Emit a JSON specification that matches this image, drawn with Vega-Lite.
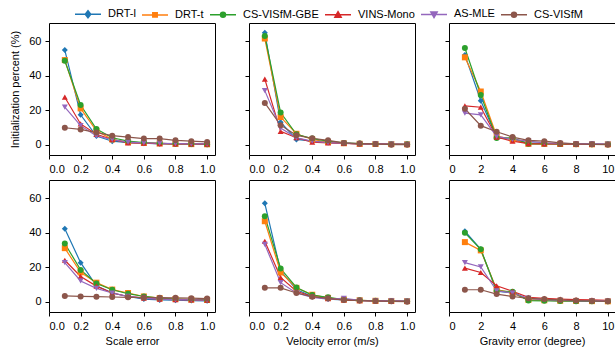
{
  "$schema": "https://vega.github.io/schema/vega-lite/v6.json",
  "padding": {"left": 9, "top": 0, "right": 0, "bottom": 4},
  "bounds": "flush",
  "columns": 3,
  "spacing": {"row": 25, "column": 34},
  "resolve": {"scale": {"x": "independent", "y": "independent"}},
  "config": {
    "font": "Liberation Sans",
    "view": {"stroke": "black", "strokeWidth": 1},
    "axis": {"domain": false, "grid": false, "ticks": true, "tickColor": "black", "tickSize": 4, "tickWidth": 1, "labelPadding": 4, "labelFontSize": 11, "labelColor": "black", "labelFont": "Liberation Sans", "titleFont": "Liberation Sans", "titleFontSize": 11, "titleFontWeight": "normal", "titleColor": "black"},
    "legend": {"labelFont": "Liberation Sans", "labelFontSize": 11, "labelColor": "black"}
  },
  "data": {"values": [
    {"p":"s1","m":"DRT-l","x":0.1,"y":54.8},{"p":"s1","m":"DRT-l","x":0.2,"y":17.3},{"p":"s1","m":"DRT-l","x":0.3,"y":5},{"p":"s1","m":"DRT-l","x":0.4,"y":2},{"p":"s1","m":"DRT-l","x":0.5,"y":1.2},{"p":"s1","m":"DRT-l","x":0.6,"y":0.8},{"p":"s1","m":"DRT-l","x":0.7,"y":0.5},{"p":"s1","m":"DRT-l","x":0.8,"y":0.4},{"p":"s1","m":"DRT-l","x":0.9,"y":0.3},{"p":"s1","m":"DRT-l","x":1.0,"y":0.2},
    {"p":"s1","m":"DRT-t","x":0.1,"y":49},{"p":"s1","m":"DRT-t","x":0.2,"y":21},{"p":"s1","m":"DRT-t","x":0.3,"y":8},{"p":"s1","m":"DRT-t","x":0.4,"y":3},{"p":"s1","m":"DRT-t","x":0.5,"y":1.5},{"p":"s1","m":"DRT-t","x":0.6,"y":1},{"p":"s1","m":"DRT-t","x":0.7,"y":0.7},{"p":"s1","m":"DRT-t","x":0.8,"y":0.5},{"p":"s1","m":"DRT-t","x":0.9,"y":0.3},{"p":"s1","m":"DRT-t","x":1.0,"y":0.2},
    {"p":"s1","m":"CS-VISfM-GBE","x":0.1,"y":48.6},{"p":"s1","m":"CS-VISfM-GBE","x":0.2,"y":23},{"p":"s1","m":"CS-VISfM-GBE","x":0.3,"y":9},{"p":"s1","m":"CS-VISfM-GBE","x":0.4,"y":4},{"p":"s1","m":"CS-VISfM-GBE","x":0.5,"y":2},{"p":"s1","m":"CS-VISfM-GBE","x":0.6,"y":1.2},{"p":"s1","m":"CS-VISfM-GBE","x":0.7,"y":0.8},{"p":"s1","m":"CS-VISfM-GBE","x":0.8,"y":0.5},{"p":"s1","m":"CS-VISfM-GBE","x":0.9,"y":0.4},{"p":"s1","m":"CS-VISfM-GBE","x":1.0,"y":0.3},
    {"p":"s1","m":"VINS-Mono","x":0.1,"y":27.5},{"p":"s1","m":"VINS-Mono","x":0.2,"y":12},{"p":"s1","m":"VINS-Mono","x":0.3,"y":6},{"p":"s1","m":"VINS-Mono","x":0.4,"y":3},{"p":"s1","m":"VINS-Mono","x":0.5,"y":1},{"p":"s1","m":"VINS-Mono","x":0.6,"y":0.8},{"p":"s1","m":"VINS-Mono","x":0.7,"y":0.6},{"p":"s1","m":"VINS-Mono","x":0.8,"y":0.5},{"p":"s1","m":"VINS-Mono","x":0.9,"y":0.4},{"p":"s1","m":"VINS-Mono","x":1.0,"y":0.3},
    {"p":"s1","m":"AS-MLE","x":0.1,"y":21.7},{"p":"s1","m":"AS-MLE","x":0.2,"y":11},{"p":"s1","m":"AS-MLE","x":0.3,"y":5},{"p":"s1","m":"AS-MLE","x":0.4,"y":3},{"p":"s1","m":"AS-MLE","x":0.5,"y":1.5},{"p":"s1","m":"AS-MLE","x":0.6,"y":1},{"p":"s1","m":"AS-MLE","x":0.7,"y":0.8},{"p":"s1","m":"AS-MLE","x":0.8,"y":0.6},{"p":"s1","m":"AS-MLE","x":0.9,"y":0.5},{"p":"s1","m":"AS-MLE","x":1.0,"y":0.4},
    {"p":"s1","m":"CS-VISfM","x":0.1,"y":9.8},{"p":"s1","m":"CS-VISfM","x":0.2,"y":8.8},{"p":"s1","m":"CS-VISfM","x":0.3,"y":7},{"p":"s1","m":"CS-VISfM","x":0.4,"y":5.2},{"p":"s1","m":"CS-VISfM","x":0.5,"y":4.4},{"p":"s1","m":"CS-VISfM","x":0.6,"y":3.5},{"p":"s1","m":"CS-VISfM","x":0.7,"y":3.5},{"p":"s1","m":"CS-VISfM","x":0.8,"y":2.5},{"p":"s1","m":"CS-VISfM","x":0.9,"y":2},{"p":"s1","m":"CS-VISfM","x":1.0,"y":1.6},

    {"p":"v1","m":"DRT-l","x":0.1,"y":64.8},{"p":"v1","m":"DRT-l","x":0.2,"y":13},{"p":"v1","m":"DRT-l","x":0.3,"y":3},{"p":"v1","m":"DRT-l","x":0.4,"y":2},{"p":"v1","m":"DRT-l","x":0.5,"y":1.2},{"p":"v1","m":"DRT-l","x":0.6,"y":0.8},{"p":"v1","m":"DRT-l","x":0.7,"y":0.5},{"p":"v1","m":"DRT-l","x":0.8,"y":0.4},{"p":"v1","m":"DRT-l","x":0.9,"y":0.3},{"p":"v1","m":"DRT-l","x":1.0,"y":0.2},
    {"p":"v1","m":"DRT-t","x":0.1,"y":61.5},{"p":"v1","m":"DRT-t","x":0.2,"y":16},{"p":"v1","m":"DRT-t","x":0.3,"y":6.3},{"p":"v1","m":"DRT-t","x":0.4,"y":3},{"p":"v1","m":"DRT-t","x":0.5,"y":1.5},{"p":"v1","m":"DRT-t","x":0.6,"y":0.8},{"p":"v1","m":"DRT-t","x":0.7,"y":0.5},{"p":"v1","m":"DRT-t","x":0.8,"y":0.4},{"p":"v1","m":"DRT-t","x":0.9,"y":0.3},{"p":"v1","m":"DRT-t","x":1.0,"y":0.2},
    {"p":"v1","m":"CS-VISfM-GBE","x":0.1,"y":63},{"p":"v1","m":"CS-VISfM-GBE","x":0.2,"y":18.6},{"p":"v1","m":"CS-VISfM-GBE","x":0.3,"y":6},{"p":"v1","m":"CS-VISfM-GBE","x":0.4,"y":3.5},{"p":"v1","m":"CS-VISfM-GBE","x":0.5,"y":2},{"p":"v1","m":"CS-VISfM-GBE","x":0.6,"y":1},{"p":"v1","m":"CS-VISfM-GBE","x":0.7,"y":0.6},{"p":"v1","m":"CS-VISfM-GBE","x":0.8,"y":0.4},{"p":"v1","m":"CS-VISfM-GBE","x":0.9,"y":0.3},{"p":"v1","m":"CS-VISfM-GBE","x":1.0,"y":0.2},
    {"p":"v1","m":"VINS-Mono","x":0.1,"y":38},{"p":"v1","m":"VINS-Mono","x":0.2,"y":7.7},{"p":"v1","m":"VINS-Mono","x":0.3,"y":4},{"p":"v1","m":"VINS-Mono","x":0.4,"y":1.5},{"p":"v1","m":"VINS-Mono","x":0.5,"y":1},{"p":"v1","m":"VINS-Mono","x":0.6,"y":0.7},{"p":"v1","m":"VINS-Mono","x":0.7,"y":0.5},{"p":"v1","m":"VINS-Mono","x":0.8,"y":0.4},{"p":"v1","m":"VINS-Mono","x":0.9,"y":0.3},{"p":"v1","m":"VINS-Mono","x":1.0,"y":0.2},
    {"p":"v1","m":"AS-MLE","x":0.1,"y":31.3},{"p":"v1","m":"AS-MLE","x":0.2,"y":9.6},{"p":"v1","m":"AS-MLE","x":0.3,"y":4},{"p":"v1","m":"AS-MLE","x":0.4,"y":2},{"p":"v1","m":"AS-MLE","x":0.5,"y":1.2},{"p":"v1","m":"AS-MLE","x":0.6,"y":0.8},{"p":"v1","m":"AS-MLE","x":0.7,"y":0.5},{"p":"v1","m":"AS-MLE","x":0.8,"y":0.4},{"p":"v1","m":"AS-MLE","x":0.9,"y":0.3},{"p":"v1","m":"AS-MLE","x":1.0,"y":0.2},
    {"p":"v1","m":"CS-VISfM","x":0.1,"y":24.2},{"p":"v1","m":"CS-VISfM","x":0.2,"y":11.3},{"p":"v1","m":"CS-VISfM","x":0.3,"y":5.4},{"p":"v1","m":"CS-VISfM","x":0.4,"y":3.7},{"p":"v1","m":"CS-VISfM","x":0.5,"y":2.5},{"p":"v1","m":"CS-VISfM","x":0.6,"y":1},{"p":"v1","m":"CS-VISfM","x":0.7,"y":0.6},{"p":"v1","m":"CS-VISfM","x":0.8,"y":0.4},{"p":"v1","m":"CS-VISfM","x":0.9,"y":0},{"p":"v1","m":"CS-VISfM","x":1.0,"y":0},

    {"p":"g1","m":"DRT-l","x":1,"y":52},{"p":"g1","m":"DRT-l","x":2,"y":25.4},{"p":"g1","m":"DRT-l","x":3,"y":4.5},{"p":"g1","m":"DRT-l","x":4,"y":3},{"p":"g1","m":"DRT-l","x":5,"y":1},{"p":"g1","m":"DRT-l","x":6,"y":0.8},{"p":"g1","m":"DRT-l","x":7,"y":0.5},{"p":"g1","m":"DRT-l","x":8,"y":0.4},{"p":"g1","m":"DRT-l","x":9,"y":0.3},{"p":"g1","m":"DRT-l","x":10,"y":0.2},
    {"p":"g1","m":"DRT-t","x":1,"y":50.6},{"p":"g1","m":"DRT-t","x":2,"y":30.8},{"p":"g1","m":"DRT-t","x":3,"y":5},{"p":"g1","m":"DRT-t","x":4,"y":3},{"p":"g1","m":"DRT-t","x":5,"y":0.5},{"p":"g1","m":"DRT-t","x":6,"y":0.5},{"p":"g1","m":"DRT-t","x":7,"y":0.4},{"p":"g1","m":"DRT-t","x":8,"y":0.3},{"p":"g1","m":"DRT-t","x":9,"y":0.2},{"p":"g1","m":"DRT-t","x":10,"y":0.2},
    {"p":"g1","m":"CS-VISfM-GBE","x":1,"y":56},{"p":"g1","m":"CS-VISfM-GBE","x":2,"y":28.8},{"p":"g1","m":"CS-VISfM-GBE","x":3,"y":3.8},{"p":"g1","m":"CS-VISfM-GBE","x":4,"y":4},{"p":"g1","m":"CS-VISfM-GBE","x":5,"y":0.5},{"p":"g1","m":"CS-VISfM-GBE","x":6,"y":0.5},{"p":"g1","m":"CS-VISfM-GBE","x":7,"y":0.4},{"p":"g1","m":"CS-VISfM-GBE","x":8,"y":0.3},{"p":"g1","m":"CS-VISfM-GBE","x":9,"y":0.2},{"p":"g1","m":"CS-VISfM-GBE","x":10,"y":0.2},
    {"p":"g1","m":"VINS-Mono","x":1,"y":22.5},{"p":"g1","m":"VINS-Mono","x":2,"y":21.7},{"p":"g1","m":"VINS-Mono","x":3,"y":4.4},{"p":"g1","m":"VINS-Mono","x":4,"y":2},{"p":"g1","m":"VINS-Mono","x":5,"y":0.6},{"p":"g1","m":"VINS-Mono","x":6,"y":0.5},{"p":"g1","m":"VINS-Mono","x":7,"y":0.4},{"p":"g1","m":"VINS-Mono","x":8,"y":0.3},{"p":"g1","m":"VINS-Mono","x":9,"y":0.2},{"p":"g1","m":"VINS-Mono","x":10,"y":0.2},
    {"p":"g1","m":"AS-MLE","x":1,"y":18.3},{"p":"g1","m":"AS-MLE","x":2,"y":17.3},{"p":"g1","m":"AS-MLE","x":3,"y":4.8},{"p":"g1","m":"AS-MLE","x":4,"y":3},{"p":"g1","m":"AS-MLE","x":5,"y":2},{"p":"g1","m":"AS-MLE","x":6,"y":1},{"p":"g1","m":"AS-MLE","x":7,"y":0.8},{"p":"g1","m":"AS-MLE","x":8,"y":0.5},{"p":"g1","m":"AS-MLE","x":9,"y":0.4},{"p":"g1","m":"AS-MLE","x":10,"y":0.3},
    {"p":"g1","m":"CS-VISfM","x":1,"y":20.8},{"p":"g1","m":"CS-VISfM","x":2,"y":11},{"p":"g1","m":"CS-VISfM","x":3,"y":7.5},{"p":"g1","m":"CS-VISfM","x":4,"y":4.4},{"p":"g1","m":"CS-VISfM","x":5,"y":2.5},{"p":"g1","m":"CS-VISfM","x":6,"y":2},{"p":"g1","m":"CS-VISfM","x":7,"y":1},{"p":"g1","m":"CS-VISfM","x":8,"y":0.4},{"p":"g1","m":"CS-VISfM","x":9,"y":0.2},{"p":"g1","m":"CS-VISfM","x":10,"y":0},

    {"p":"s2","m":"DRT-l","x":0.1,"y":42.2},{"p":"s2","m":"DRT-l","x":0.2,"y":22.6},{"p":"s2","m":"DRT-l","x":0.3,"y":9.2},{"p":"s2","m":"DRT-l","x":0.4,"y":5},{"p":"s2","m":"DRT-l","x":0.5,"y":3},{"p":"s2","m":"DRT-l","x":0.6,"y":1.5},{"p":"s2","m":"DRT-l","x":0.7,"y":1},{"p":"s2","m":"DRT-l","x":0.8,"y":0.8},{"p":"s2","m":"DRT-l","x":0.9,"y":0.6},{"p":"s2","m":"DRT-l","x":1.0,"y":0.5},
    {"p":"s2","m":"DRT-t","x":0.1,"y":31},{"p":"s2","m":"DRT-t","x":0.2,"y":17},{"p":"s2","m":"DRT-t","x":0.3,"y":11},{"p":"s2","m":"DRT-t","x":0.4,"y":7},{"p":"s2","m":"DRT-t","x":0.5,"y":5},{"p":"s2","m":"DRT-t","x":0.6,"y":3},{"p":"s2","m":"DRT-t","x":0.7,"y":2},{"p":"s2","m":"DRT-t","x":0.8,"y":1.5},{"p":"s2","m":"DRT-t","x":0.9,"y":1.2},{"p":"s2","m":"DRT-t","x":1.0,"y":1},
    {"p":"s2","m":"CS-VISfM-GBE","x":0.1,"y":33.7},{"p":"s2","m":"CS-VISfM-GBE","x":0.2,"y":18.4},{"p":"s2","m":"CS-VISfM-GBE","x":0.3,"y":10.5},{"p":"s2","m":"CS-VISfM-GBE","x":0.4,"y":6.9},{"p":"s2","m":"CS-VISfM-GBE","x":0.5,"y":4.6},{"p":"s2","m":"CS-VISfM-GBE","x":0.6,"y":3},{"p":"s2","m":"CS-VISfM-GBE","x":0.7,"y":2},{"p":"s2","m":"CS-VISfM-GBE","x":0.8,"y":1.5},{"p":"s2","m":"CS-VISfM-GBE","x":0.9,"y":1.2},{"p":"s2","m":"CS-VISfM-GBE","x":1.0,"y":1},
    {"p":"s2","m":"VINS-Mono","x":0.1,"y":24},{"p":"s2","m":"VINS-Mono","x":0.2,"y":14.6},{"p":"s2","m":"VINS-Mono","x":0.3,"y":9},{"p":"s2","m":"VINS-Mono","x":0.4,"y":5},{"p":"s2","m":"VINS-Mono","x":0.5,"y":3},{"p":"s2","m":"VINS-Mono","x":0.6,"y":2},{"p":"s2","m":"VINS-Mono","x":0.7,"y":1.5},{"p":"s2","m":"VINS-Mono","x":0.8,"y":1.2},{"p":"s2","m":"VINS-Mono","x":0.9,"y":1},{"p":"s2","m":"VINS-Mono","x":1.0,"y":0.8},
    {"p":"s2","m":"AS-MLE","x":0.1,"y":22.6},{"p":"s2","m":"AS-MLE","x":0.2,"y":12},{"p":"s2","m":"AS-MLE","x":0.3,"y":7.7},{"p":"s2","m":"AS-MLE","x":0.4,"y":5},{"p":"s2","m":"AS-MLE","x":0.5,"y":3},{"p":"s2","m":"AS-MLE","x":0.6,"y":2},{"p":"s2","m":"AS-MLE","x":0.7,"y":1.5},{"p":"s2","m":"AS-MLE","x":0.8,"y":1.2},{"p":"s2","m":"AS-MLE","x":0.9,"y":1},{"p":"s2","m":"AS-MLE","x":1.0,"y":0.8},
    {"p":"s2","m":"CS-VISfM","x":0.1,"y":3.3},{"p":"s2","m":"CS-VISfM","x":0.2,"y":3},{"p":"s2","m":"CS-VISfM","x":0.3,"y":2.9},{"p":"s2","m":"CS-VISfM","x":0.4,"y":2.7},{"p":"s2","m":"CS-VISfM","x":0.5,"y":2.5},{"p":"s2","m":"CS-VISfM","x":0.6,"y":2.4},{"p":"s2","m":"CS-VISfM","x":0.7,"y":2.3},{"p":"s2","m":"CS-VISfM","x":0.8,"y":2.2},{"p":"s2","m":"CS-VISfM","x":0.9,"y":2},{"p":"s2","m":"CS-VISfM","x":1.0,"y":1.8},

    {"p":"v2","m":"DRT-l","x":0.1,"y":57},{"p":"v2","m":"DRT-l","x":0.2,"y":17.8},{"p":"v2","m":"DRT-l","x":0.3,"y":7},{"p":"v2","m":"DRT-l","x":0.4,"y":3},{"p":"v2","m":"DRT-l","x":0.5,"y":1.5},{"p":"v2","m":"DRT-l","x":0.6,"y":1},{"p":"v2","m":"DRT-l","x":0.7,"y":0.6},{"p":"v2","m":"DRT-l","x":0.8,"y":0.4},{"p":"v2","m":"DRT-l","x":0.9,"y":0.3},{"p":"v2","m":"DRT-l","x":1.0,"y":0.2},
    {"p":"v2","m":"DRT-t","x":0.1,"y":46.6},{"p":"v2","m":"DRT-t","x":0.2,"y":16.9},{"p":"v2","m":"DRT-t","x":0.3,"y":8},{"p":"v2","m":"DRT-t","x":0.4,"y":4},{"p":"v2","m":"DRT-t","x":0.5,"y":2.2},{"p":"v2","m":"DRT-t","x":0.6,"y":1.2},{"p":"v2","m":"DRT-t","x":0.7,"y":0.8},{"p":"v2","m":"DRT-t","x":0.8,"y":0.5},{"p":"v2","m":"DRT-t","x":0.9,"y":0.4},{"p":"v2","m":"DRT-t","x":1.0,"y":0.3},
    {"p":"v2","m":"CS-VISfM-GBE","x":0.1,"y":49.5},{"p":"v2","m":"CS-VISfM-GBE","x":0.2,"y":19.2},{"p":"v2","m":"CS-VISfM-GBE","x":0.3,"y":8.2},{"p":"v2","m":"CS-VISfM-GBE","x":0.4,"y":3.8},{"p":"v2","m":"CS-VISfM-GBE","x":0.5,"y":2.5},{"p":"v2","m":"CS-VISfM-GBE","x":0.6,"y":1.2},{"p":"v2","m":"CS-VISfM-GBE","x":0.7,"y":0.8},{"p":"v2","m":"CS-VISfM-GBE","x":0.8,"y":0.5},{"p":"v2","m":"CS-VISfM-GBE","x":0.9,"y":0.4},{"p":"v2","m":"CS-VISfM-GBE","x":1.0,"y":0.3},
    {"p":"v2","m":"VINS-Mono","x":0.1,"y":35},{"p":"v2","m":"VINS-Mono","x":0.2,"y":14},{"p":"v2","m":"VINS-Mono","x":0.3,"y":6},{"p":"v2","m":"VINS-Mono","x":0.4,"y":3},{"p":"v2","m":"VINS-Mono","x":0.5,"y":1.8},{"p":"v2","m":"VINS-Mono","x":0.6,"y":1},{"p":"v2","m":"VINS-Mono","x":0.7,"y":0.6},{"p":"v2","m":"VINS-Mono","x":0.8,"y":0.4},{"p":"v2","m":"VINS-Mono","x":0.9,"y":0.3},{"p":"v2","m":"VINS-Mono","x":1.0,"y":0.2},
    {"p":"v2","m":"AS-MLE","x":0.1,"y":33.2},{"p":"v2","m":"AS-MLE","x":0.2,"y":11},{"p":"v2","m":"AS-MLE","x":0.3,"y":5},{"p":"v2","m":"AS-MLE","x":0.4,"y":2.5},{"p":"v2","m":"AS-MLE","x":0.5,"y":1.5},{"p":"v2","m":"AS-MLE","x":0.6,"y":1.9},{"p":"v2","m":"AS-MLE","x":0.7,"y":0.8},{"p":"v2","m":"AS-MLE","x":0.8,"y":0.5},{"p":"v2","m":"AS-MLE","x":0.9,"y":0.4},{"p":"v2","m":"AS-MLE","x":1.0,"y":0.3},
    {"p":"v2","m":"CS-VISfM","x":0.1,"y":8},{"p":"v2","m":"CS-VISfM","x":0.2,"y":8},{"p":"v2","m":"CS-VISfM","x":0.3,"y":5},{"p":"v2","m":"CS-VISfM","x":0.4,"y":2.9},{"p":"v2","m":"CS-VISfM","x":0.5,"y":1.9},{"p":"v2","m":"CS-VISfM","x":0.6,"y":1},{"p":"v2","m":"CS-VISfM","x":0.7,"y":0.6},{"p":"v2","m":"CS-VISfM","x":0.8,"y":0.4},{"p":"v2","m":"CS-VISfM","x":0.9,"y":0.2},{"p":"v2","m":"CS-VISfM","x":1.0,"y":0},

    {"p":"g2","m":"DRT-l","x":1,"y":40.8},{"p":"g2","m":"DRT-l","x":2,"y":30.3},{"p":"g2","m":"DRT-l","x":3,"y":6},{"p":"g2","m":"DRT-l","x":4,"y":5},{"p":"g2","m":"DRT-l","x":5,"y":1},{"p":"g2","m":"DRT-l","x":6,"y":0.8},{"p":"g2","m":"DRT-l","x":7,"y":0.5},{"p":"g2","m":"DRT-l","x":8,"y":0.4},{"p":"g2","m":"DRT-l","x":9,"y":0.3},{"p":"g2","m":"DRT-l","x":10,"y":0.2},
    {"p":"g2","m":"DRT-t","x":1,"y":34.5},{"p":"g2","m":"DRT-t","x":2,"y":29.7},{"p":"g2","m":"DRT-t","x":3,"y":7},{"p":"g2","m":"DRT-t","x":4,"y":5},{"p":"g2","m":"DRT-t","x":5,"y":1},{"p":"g2","m":"DRT-t","x":6,"y":0.8},{"p":"g2","m":"DRT-t","x":7,"y":0.5},{"p":"g2","m":"DRT-t","x":8,"y":0.4},{"p":"g2","m":"DRT-t","x":9,"y":0.3},{"p":"g2","m":"DRT-t","x":10,"y":0.2},
    {"p":"g2","m":"CS-VISfM-GBE","x":1,"y":39.9},{"p":"g2","m":"CS-VISfM-GBE","x":2,"y":30.3},{"p":"g2","m":"CS-VISfM-GBE","x":3,"y":6.3},{"p":"g2","m":"CS-VISfM-GBE","x":4,"y":5.8},{"p":"g2","m":"CS-VISfM-GBE","x":5,"y":0.6},{"p":"g2","m":"CS-VISfM-GBE","x":6,"y":0.5},{"p":"g2","m":"CS-VISfM-GBE","x":7,"y":0.4},{"p":"g2","m":"CS-VISfM-GBE","x":8,"y":0.3},{"p":"g2","m":"CS-VISfM-GBE","x":9,"y":0.2},{"p":"g2","m":"CS-VISfM-GBE","x":10,"y":0.2},
    {"p":"g2","m":"VINS-Mono","x":1,"y":19.4},{"p":"g2","m":"VINS-Mono","x":2,"y":16.9},{"p":"g2","m":"VINS-Mono","x":3,"y":9.2},{"p":"g2","m":"VINS-Mono","x":4,"y":6},{"p":"g2","m":"VINS-Mono","x":5,"y":2.5},{"p":"g2","m":"VINS-Mono","x":6,"y":1.9},{"p":"g2","m":"VINS-Mono","x":7,"y":1.5},{"p":"g2","m":"VINS-Mono","x":8,"y":1.2},{"p":"g2","m":"VINS-Mono","x":9,"y":1},{"p":"g2","m":"VINS-Mono","x":10,"y":0.8},
    {"p":"g2","m":"AS-MLE","x":1,"y":22.6},{"p":"g2","m":"AS-MLE","x":2,"y":20.1},{"p":"g2","m":"AS-MLE","x":3,"y":6.3},{"p":"g2","m":"AS-MLE","x":4,"y":5},{"p":"g2","m":"AS-MLE","x":5,"y":2},{"p":"g2","m":"AS-MLE","x":6,"y":1.2},{"p":"g2","m":"AS-MLE","x":7,"y":0.8},{"p":"g2","m":"AS-MLE","x":8,"y":0.5},{"p":"g2","m":"AS-MLE","x":9,"y":0.4},{"p":"g2","m":"AS-MLE","x":10,"y":0.3},
    {"p":"g2","m":"CS-VISfM","x":1,"y":6.9},{"p":"g2","m":"CS-VISfM","x":2,"y":6.9},{"p":"g2","m":"CS-VISfM","x":3,"y":4.4},{"p":"g2","m":"CS-VISfM","x":4,"y":3},{"p":"g2","m":"CS-VISfM","x":5,"y":1.9},{"p":"g2","m":"CS-VISfM","x":6,"y":1.5},{"p":"g2","m":"CS-VISfM","x":7,"y":1},{"p":"g2","m":"CS-VISfM","x":8,"y":0.6},{"p":"g2","m":"CS-VISfM","x":9,"y":0.4},{"p":"g2","m":"CS-VISfM","x":10,"y":0.2}
  ]},
  "concat": [
    {
      "width": 166, "height": 132,
      "transform": [{"filter": "datum.p === 's1'"}],
      "encoding": {
        "x": {"field": "x", "type": "quantitative", "scale": {"domain": [0, 1.05], "nice": false, "zero": false}, "axis": {"values": [0, 0.2, 0.4, 0.6, 0.8, 1.0], "format": ".1f", "title": null}},
        "y": {"field": "y", "type": "quantitative", "scale": {"domain": [-6, 70.5], "nice": false}, "axis": {"values": [0, 20, 40, 60], "title": "Initialization percent (%)", "titlePadding": 8}},
        "color": {"field": "m", "type": "nominal", "scale": {"domain": ["DRT-l", "DRT-t", "CS-VISfM-GBE", "VINS-Mono", "AS-MLE", "CS-VISfM"], "range": ["#1f77b4", "#ff7f0e", "#2ca02c", "#d62728", "#9467bd", "#8c564b"]},
          "legend": {"title": null, "orient": "none", "legendX": 25, "legendY": -23, "direction": "horizontal", "symbolSize": 676, "symbolStrokeWidth": 1.5, "labelOffset": 6, "columnPadding": 3, "padding": 0,
            "encode": {"symbols": {"update": {
              "shape": {"signal": "datum.value === 'DRT-l' ? 'M-1,0H1M0,-0.27L0.21,0L0,0.27L-0.21,0Z' : datum.value === 'DRT-t' ? 'M-1,0H1M-0.17,-0.17H0.17V0.17H-0.17Z' : datum.value === 'VINS-Mono' ? 'M-1,0H1M0,-0.24L0.24,0.18L-0.24,0.18Z' : datum.value === 'AS-MLE' ? 'M-1,0H1M0,0.24L0.24,-0.18L-0.24,-0.18Z' : 'M-1,0H1M0.19,0A0.19,0.19 0 1,1 -0.19,0A0.19,0.19 0 1,1 0.19,0Z'"},
              "strokeWidth": {"value": 1.5},
              "opacity": {"value": 1}
            }}}}}
      },
      "layer": [
        {"mark": {"type": "line", "strokeWidth": 1.2}},
        {"mark": {"type": "point", "filled": true, "size": 36, "opacity": 1}, "encoding": {"shape": {"field": "m", "type": "nominal", "scale": {"domain": ["CS-VISfM", "DRT-l", "DRT-t", "CS-VISfM-GBE", "VINS-Mono", "AS-MLE"], "range": ["circle", "diamond", "square", "circle", "triangle-up", "triangle-down"]}, "legend": null}}}
      ]
    },
    {
      "width": 166, "height": 132,
      "transform": [{"filter": "datum.p === 'v1'"}],
      "encoding": {
        "x": {"field": "x", "type": "quantitative", "scale": {"domain": [0, 1.05], "nice": false, "zero": false}, "axis": {"values": [0, 0.2, 0.4, 0.6, 0.8, 1.0], "format": ".1f", "title": null}},
        "y": {"field": "y", "type": "quantitative", "scale": {"domain": [-6, 70.5], "nice": false}, "axis": {"values": [0, 20, 40, 60], "title": null, "labels": false}},
        "color": {"field": "m", "type": "nominal", "scale": {"domain": ["DRT-l", "DRT-t", "CS-VISfM-GBE", "VINS-Mono", "AS-MLE", "CS-VISfM"], "range": ["#1f77b4", "#ff7f0e", "#2ca02c", "#d62728", "#9467bd", "#8c564b"]}}
      },
      "layer": [
        {"mark": {"type": "line", "strokeWidth": 1.2}},
        {"mark": {"type": "point", "filled": true, "size": 36, "opacity": 1}, "encoding": {"shape": {"field": "m", "type": "nominal", "scale": {"domain": ["CS-VISfM", "DRT-l", "DRT-t", "CS-VISfM-GBE", "VINS-Mono", "AS-MLE"], "range": ["circle", "diamond", "square", "circle", "triangle-up", "triangle-down"]}, "legend": null}}}
      ]
    },
    {
      "width": 166, "height": 132,
      "transform": [{"filter": "datum.p === 'g1'"}],
      "encoding": {
        "x": {"field": "x", "type": "quantitative", "scale": {"domain": [0, 10.45], "nice": false, "zero": false}, "axis": {"values": [0, 2, 4, 6, 8, 10], "title": null}},
        "y": {"field": "y", "type": "quantitative", "scale": {"domain": [-6, 70.5], "nice": false}, "axis": {"values": [0, 20, 40, 60], "title": null, "labels": false}},
        "color": {"field": "m", "type": "nominal", "scale": {"domain": ["DRT-l", "DRT-t", "CS-VISfM-GBE", "VINS-Mono", "AS-MLE", "CS-VISfM"], "range": ["#1f77b4", "#ff7f0e", "#2ca02c", "#d62728", "#9467bd", "#8c564b"]}}
      },
      "layer": [
        {"mark": {"type": "line", "strokeWidth": 1.2}},
        {"mark": {"type": "point", "filled": true, "size": 36, "opacity": 1}, "encoding": {"shape": {"field": "m", "type": "nominal", "scale": {"domain": ["CS-VISfM", "DRT-l", "DRT-t", "CS-VISfM-GBE", "VINS-Mono", "AS-MLE"], "range": ["circle", "diamond", "square", "circle", "triangle-up", "triangle-down"]}, "legend": null}}}
      ]
    },
    {
      "width": 166, "height": 132,
      "transform": [{"filter": "datum.p === 's2'"}],
      "encoding": {
        "x": {"field": "x", "type": "quantitative", "scale": {"domain": [0, 1.05], "nice": false, "zero": false}, "axis": {"values": [0, 0.2, 0.4, 0.6, 0.8, 1.0], "format": ".1f", "title": "Scale error", "titlePadding": 4}},
        "y": {"field": "y", "type": "quantitative", "scale": {"domain": [-6, 70.5], "nice": false}, "axis": {"values": [0, 20, 40, 60], "title": null}},
        "color": {"field": "m", "type": "nominal", "scale": {"domain": ["DRT-l", "DRT-t", "CS-VISfM-GBE", "VINS-Mono", "AS-MLE", "CS-VISfM"], "range": ["#1f77b4", "#ff7f0e", "#2ca02c", "#d62728", "#9467bd", "#8c564b"]}}
      },
      "layer": [
        {"mark": {"type": "line", "strokeWidth": 1.2}},
        {"mark": {"type": "point", "filled": true, "size": 36, "opacity": 1}, "encoding": {"shape": {"field": "m", "type": "nominal", "scale": {"domain": ["CS-VISfM", "DRT-l", "DRT-t", "CS-VISfM-GBE", "VINS-Mono", "AS-MLE"], "range": ["circle", "diamond", "square", "circle", "triangle-up", "triangle-down"]}, "legend": null}}}
      ]
    },
    {
      "width": 166, "height": 132,
      "transform": [{"filter": "datum.p === 'v2'"}],
      "encoding": {
        "x": {"field": "x", "type": "quantitative", "scale": {"domain": [0, 1.05], "nice": false, "zero": false}, "axis": {"values": [0, 0.2, 0.4, 0.6, 0.8, 1.0], "format": ".1f", "title": "Velocity error (m/s)", "titlePadding": 4}},
        "y": {"field": "y", "type": "quantitative", "scale": {"domain": [-6, 70.5], "nice": false}, "axis": {"values": [0, 20, 40, 60], "title": null, "labels": false}},
        "color": {"field": "m", "type": "nominal", "scale": {"domain": ["DRT-l", "DRT-t", "CS-VISfM-GBE", "VINS-Mono", "AS-MLE", "CS-VISfM"], "range": ["#1f77b4", "#ff7f0e", "#2ca02c", "#d62728", "#9467bd", "#8c564b"]}}
      },
      "layer": [
        {"mark": {"type": "line", "strokeWidth": 1.2}},
        {"mark": {"type": "point", "filled": true, "size": 36, "opacity": 1}, "encoding": {"shape": {"field": "m", "type": "nominal", "scale": {"domain": ["CS-VISfM", "DRT-l", "DRT-t", "CS-VISfM-GBE", "VINS-Mono", "AS-MLE"], "range": ["circle", "diamond", "square", "circle", "triangle-up", "triangle-down"]}, "legend": null}}}
      ]
    },
    {
      "width": 166, "height": 132,
      "transform": [{"filter": "datum.p === 'g2'"}],
      "encoding": {
        "x": {"field": "x", "type": "quantitative", "scale": {"domain": [0, 10.45], "nice": false, "zero": false}, "axis": {"values": [0, 2, 4, 6, 8, 10], "title": "Gravity error (degree)", "titlePadding": 4}},
        "y": {"field": "y", "type": "quantitative", "scale": {"domain": [-6, 70.5], "nice": false}, "axis": {"values": [0, 20, 40, 60], "title": null, "labels": false}},
        "color": {"field": "m", "type": "nominal", "scale": {"domain": ["DRT-l", "DRT-t", "CS-VISfM-GBE", "VINS-Mono", "AS-MLE", "CS-VISfM"], "range": ["#1f77b4", "#ff7f0e", "#2ca02c", "#d62728", "#9467bd", "#8c564b"]}}
      },
      "layer": [
        {"mark": {"type": "line", "strokeWidth": 1.2}},
        {"mark": {"type": "point", "filled": true, "size": 36, "opacity": 1}, "encoding": {"shape": {"field": "m", "type": "nominal", "scale": {"domain": ["CS-VISfM", "DRT-l", "DRT-t", "CS-VISfM-GBE", "VINS-Mono", "AS-MLE"], "range": ["circle", "diamond", "square", "circle", "triangle-up", "triangle-down"]}, "legend": null}}}
      ]
    }
  ]
}
